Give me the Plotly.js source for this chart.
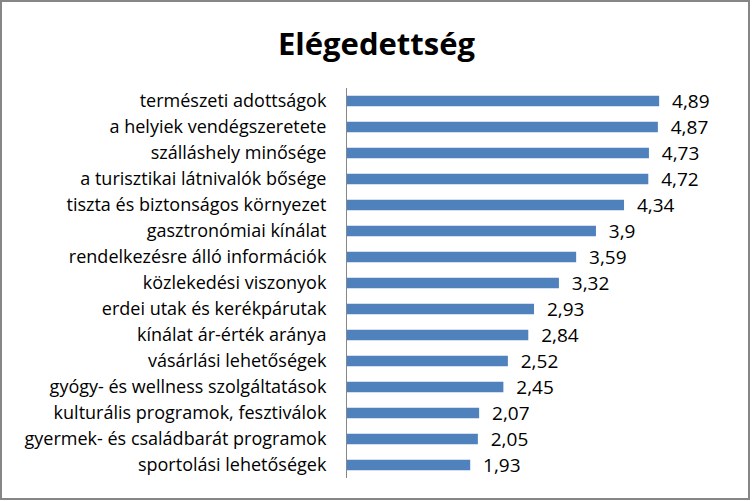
<!DOCTYPE html>
<html>
<head>
<meta charset="utf-8">
<script src="https://cdn.plot.ly/plotly-3.0.1.min.js"></script>
<style>
  html, body { margin: 0; padding: 0; background: #fff; }
  #chart { width: 753px; height: 501px; }
</style>
</head>
<body>
<div id="chart"></div>
<script>
const categories = [
  "természeti adottságok",
  "a helyiek vendégszeretete",
  "szálláshely minősége",
  "a turisztikai látnivalók bősége",
  "tiszta és biztonságos környezet",
  "gasztronómiai kínálat",
  "rendelkezésre álló információk",
  "közlekedési viszonyok",
  "erdei utak és kerékpárutak",
  "kínálat ár-érték aránya",
  "vásárlási lehetőségek",
  "gyógy- és wellness szolgáltatások",
  "kulturális programok, fesztiválok",
  "gyermek- és családbarát programok",
  "sportolási lehetőségek"
];
const scores = [4.89, 4.87, 4.73, 4.72, 4.34, 3.9, 3.59, 3.32, 2.93, 2.84, 2.52, 2.45, 2.07, 2.05, 1.93];

const labels = scores.map(v => "  " + String(v).replace(".", ","));

const data = [{
  type: "bar",
  orientation: "h",
  x: scores,
  y: categories,
  text: labels,
  textposition: "outside",
  constraintext: "none",
  cliponaxis: false,
  textfont: {family: "Open Sans, sans-serif", size: 19, color: "#000"},
  marker: {color: "#4F81BD"},
  hoverinfo: "x+y"
}];

const layout = {
  width: 753,
  height: 501,
  paper_bgcolor: "#fff",
  plot_bgcolor: "#fff",
  margin: {l: 347, r: 23, t: 88, b: 23},
  bargap: 0.6,
  showlegend: false,
  title: {
    text: "<b>Elégedettség</b>",
    font: {family: "Open Sans, sans-serif", size: 31, color: "#000"},
    x: 0.5, xanchor: "center",
    y: 0.912, yanchor: "middle"
  },
  xaxis: {
    range: [0, 6],
    visible: false,
    showgrid: false,
    zeroline: false
  },
  yaxis: {
    type: "category",
    autorange: "reversed",
    showline: true,
    linecolor: "#868686",
    linewidth: 1,
    ticks: "",
    ticklabelstandoff: 16,
    showgrid: false,
    tickfont: {family: "Open Sans, sans-serif", size: 18, color: "#000"}
  },
  shapes: [{
    type: "rect", xref: "paper", yref: "paper",
    x0: -346 / 383, x1: 1 + 19 / 383,
    y0: -21 / 390, y1: 1 + 87 / 390,
    line: {color: "#868686", width: 2},
    fillcolor: "rgba(0,0,0,0)"
  }]
};

Plotly.newPlot("chart", data, layout, {displayModeBar: false, staticPlot: true});
</script>
</body>
</html>
